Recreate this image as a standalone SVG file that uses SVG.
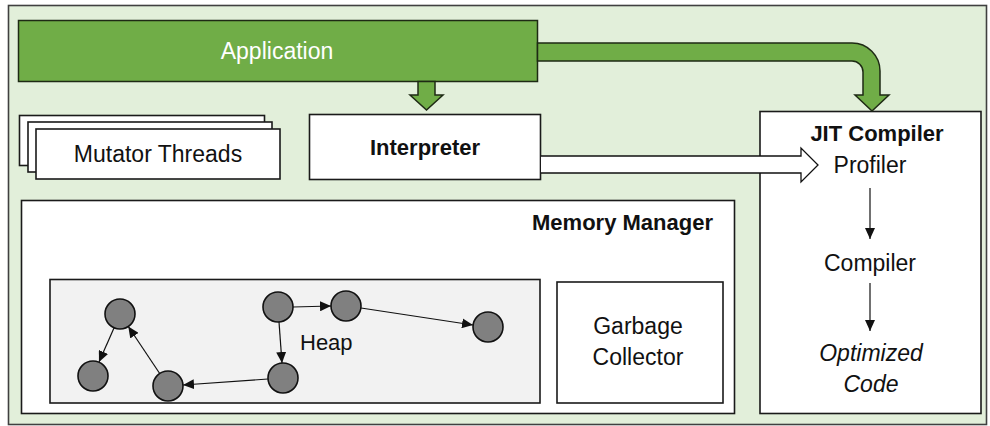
<svg xmlns="http://www.w3.org/2000/svg" width="990" height="426" viewBox="0 0 990 426">
<style>
text{font-family:"Liberation Sans",Arial,sans-serif;font-size:23px;fill:#111}
.b{font-weight:bold;font-size:22px}
.box{fill:#fff;stroke:#1a1a1a;stroke-width:1.6}
.node{fill:#808080;stroke:#111;stroke-width:1.6}
.edge{stroke:#111;stroke-width:1.2;fill:none}
.green{fill:#70ad47;stroke:#1e2a14;stroke-width:1.5}
</style>
<defs>
<marker id="ah" markerUnits="userSpaceOnUse" markerWidth="12" markerHeight="10" refX="11" refY="5" orient="auto">
<path d="M0,0 L11,5 L0,10 z" fill="#111"/>
</marker>
</defs>
<rect id="frame" x="8.5" y="5.5" width="978" height="419" fill="#e2efda" stroke="#404040" stroke-width="1.6"/>

<g id="application">
<rect class="green" x="18.5" y="20.5" width="519" height="61"/>
<text x="277" y="59" text-anchor="middle" style="fill:#fff">Application</text>
</g>

<g id="mutator-threads">
<rect class="box" x="19.5" y="115.5" width="245" height="50"/>
<rect class="box" x="28" y="122" width="244" height="50"/>
<rect class="box" x="36" y="129" width="244" height="50"/>
<text x="158" y="162" text-anchor="middle">Mutator Threads</text>
</g>

<g id="interpreter">
<rect class="box" x="309.5" y="114.5" width="231" height="65"/>
<text class="b" x="425" y="155" text-anchor="middle">Interpreter</text>
</g>

<g id="memory-manager">
<rect class="box" x="21.5" y="200.5" width="713" height="213"/>
<text class="b" x="713" y="230" text-anchor="end">Memory Manager</text>
</g>

<g id="heap">
<rect x="50" y="279.5" width="490" height="123.5" fill="#f2f2f2" stroke="#1a1a1a" stroke-width="1.6"/>
<text x="300" y="350" style="font-size:22px">Heap</text>
<circle class="node" cx="120" cy="314" r="15"/>
<circle class="node" cx="93" cy="376" r="15"/>
<circle class="node" cx="168" cy="386" r="15"/>
<circle class="node" cx="278" cy="307" r="15"/>
<circle class="node" cx="283" cy="378" r="15"/>
<circle class="node" cx="346" cy="306" r="15"/>
<circle class="node" cx="488" cy="327" r="15"/>
</g>

<g id="garbage-collector">
<rect class="box" x="557" y="282" width="166" height="121"/>
<text x="638" y="334" text-anchor="middle">Garbage</text>
<text x="638" y="365" text-anchor="middle">Collector</text>
</g>

<g id="jit-compiler">
<rect class="box" x="760" y="111.5" width="221" height="302"/>
<text class="b" x="877" y="141" text-anchor="middle">JIT Compiler</text>
<text x="870" y="173" text-anchor="middle">Profiler</text>
<text x="870" y="271" text-anchor="middle">Compiler</text>
<text x="871" y="361" text-anchor="middle" font-style="italic">Optimized</text>
<text x="871" y="392" text-anchor="middle" font-style="italic">Code</text>
</g>

<g id="connectors">
<path class="green" d="M418,81.5 L435,81.5 L435,95 L443,95 L426.5,110 L410,95 L418,95 Z"/>
<path class="green" d="M537.5,43 L852,43 A28,28 0 0 1 880,71 L880,95 L889,95 L872,111 L855,95 L863,95 L863,72 A11,11 0 0 0 852,61 L537.5,61 Z"/>
<path d="M541,156 L801,156 L801,148 L818,165 L801,182 L801,173 L541,173" fill="#fff" stroke="#111" stroke-width="1.3"/>
<line class="edge" x1="870" y1="188" x2="870" y2="239" marker-end="url(#ah)"/>
<line class="edge" x1="870" y1="283" x2="870" y2="331" marker-end="url(#ah)"/>
<line class="edge" x1="114" y1="328" x2="99" y2="362" marker-end="url(#ah)"/>
<line class="edge" x1="159.7" y1="373.5" x2="128.3" y2="326.5" marker-end="url(#ah)"/>
<line class="edge" x1="268" y1="379" x2="183" y2="385" marker-end="url(#ah)"/>
<line class="edge" x1="279" y1="322" x2="282" y2="363" marker-end="url(#ah)"/>
<line class="edge" x1="293" y1="307" x2="331" y2="306" marker-end="url(#ah)"/>
<line class="edge" x1="361" y1="308" x2="473" y2="325" marker-end="url(#ah)"/>
</g>
</svg>
